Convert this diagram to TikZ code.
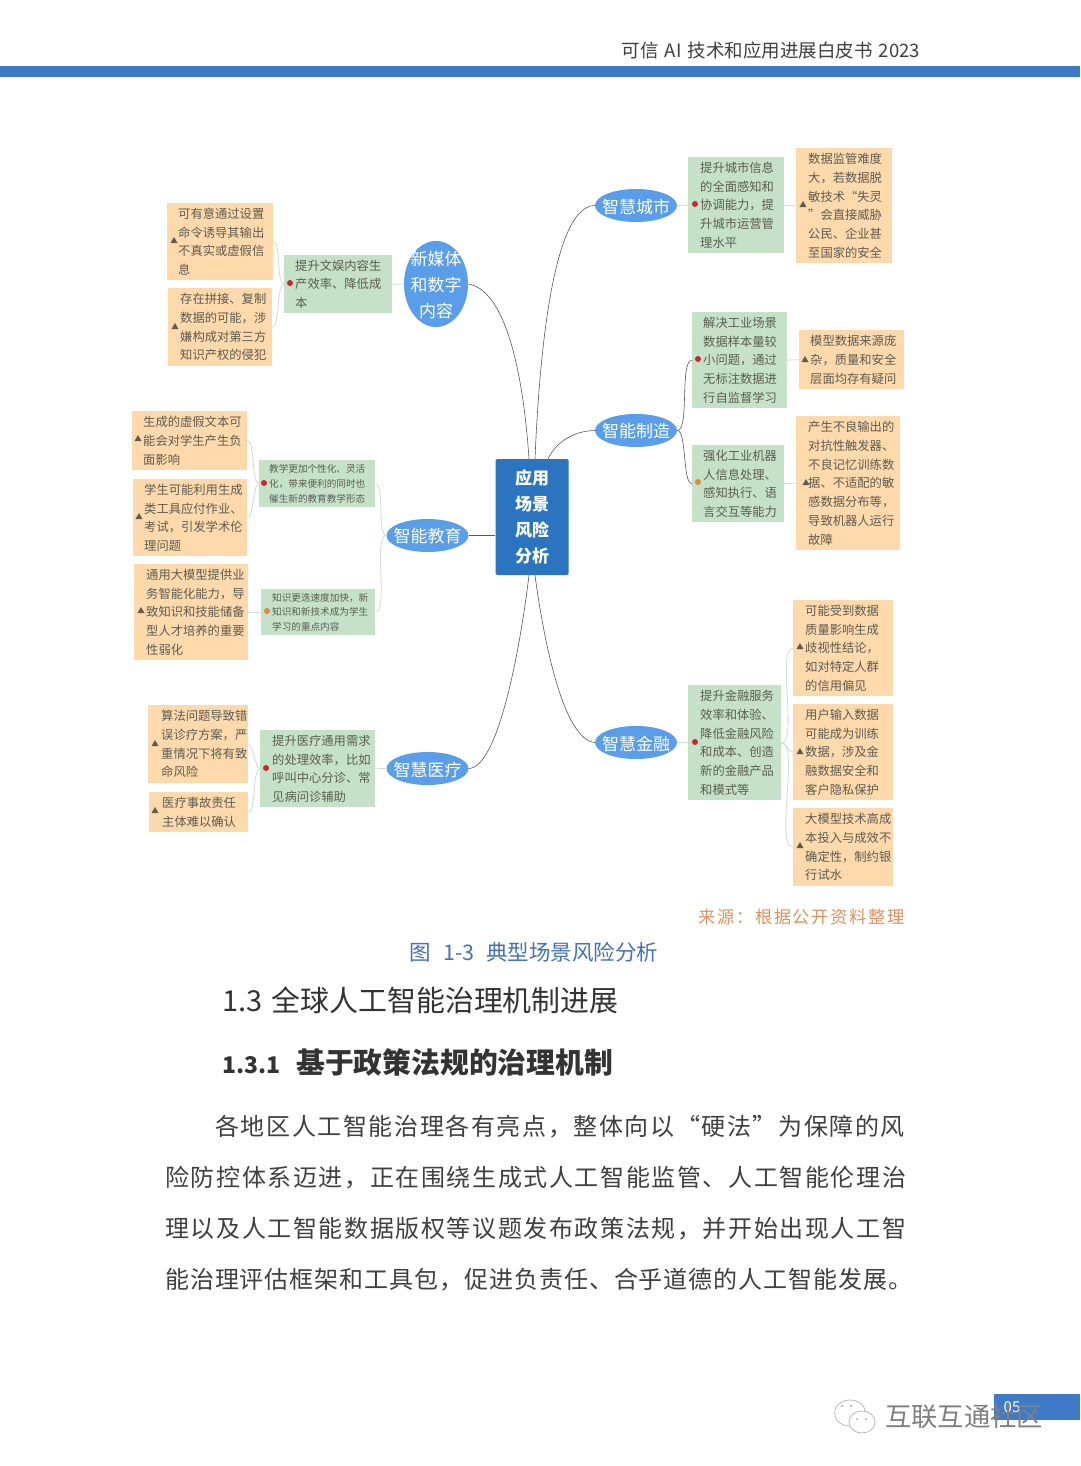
\documentclass[tikz,border=0pt]{standalone}
\usepackage{fontspec}
\setmainfont{Noto Sans CJK SC}
\newfontfamily\bodyfont[LetterSpace=6.7]{Noto Sans CJK SC}
\newfontfamily\tightfont[LetterSpace=3.9]{Noto Sans CJK SC}
\newfontfamily\sourcefont[LetterSpace=10]{Noto Sans CJK SC}
\usetikzlibrary{shapes.geometric}
\definecolor{barblue}{HTML}{3E7AC6}
\definecolor{coreblue}{HTML}{2B74BF}
\definecolor{topicblue}{HTML}{5A9DE8}
\definecolor{goalgreen}{HTML}{C5E2C8}
\definecolor{riskorange}{HTML}{FDD9AB}
\definecolor{inkgray}{HTML}{5C5C52}
\definecolor{twiggray}{HTML}{CFDDD2}
\definecolor{dotred}{HTML}{C8282D}
\definecolor{dotorange}{HTML}{DD8A3C}
\definecolor{captionblue}{HTML}{4472B8}
\definecolor{sourceorange}{HTML}{DC9260}
\begin{document}
\begin{tikzpicture}[x=1pt,y=-1pt]
    \tikzset{
        lead/.style={execute at begin node={\leftskip=#1pt}},
        riskbox/.style={fill=riskorange, anchor=north west, inner sep=0pt, align=left, text=inkgray, font=\fontsize{12.3}{18.7}\selectfont, lead=12},
        goalbox/.style={riskbox, fill=goalgreen},
        tinybox/.style={goalbox, font=\fontsize{9.6}{14.7}\selectfont},
        topic/.style={ellipse, fill=topicblue, inner sep=0pt, minimum width=82pt, minimum height=33pt},
        topictext/.style={text=white, align=center, inner sep=0pt, yshift=-1pt, font=\fontsize{17}{26}\selectfont},
        reddot/.style={circle, fill=dotred, inner sep=0pt, minimum size=6pt},
        orangedot/.style={reddot, fill=dotorange},
        tri/.style={regular polygon, regular polygon sides=3, fill=inkgray, inner sep=0pt, minimum size=8pt},
        branch/.style={draw=black!65, line width=0.6pt},
        twig/.style={draw=twiggray, line width=0.8pt},
        bend/.style={out=#1,in=#1+180,looseness=0.45}
    }
    \useasboundingbox (0,0) rectangle (1080,1466);
    \fill[white] (0,0) rectangle (1080,1466);
    % page head
    \node[anchor=east, inner sep=0pt, text=black!75, font=\fontsize{18.5}{22}\selectfont] (headline) at (920,50) {可信\hspace{2pt} AI\hspace{2pt} 技术和应用进展白皮书\hspace{2pt} 2023};
    \fill[barblue] (0,66) rectangle (1080,77);
    % centre
    \node[fill=coreblue, rounded corners=1.5pt, minimum width=73pt, minimum height=116pt, inner sep=0pt, align=center, text=white, font=\bfseries\fontsize{17}{26}\selectfont] (core) at (532,517) {应用\\场景\\风险\\分析};
    % topics
    \node[topic, minimum width=64pt, minimum height=86pt, label={[topictext]center:新媒体\\和数字\\内容}] (media) at (436,284) {};
    \node[topic, label={[topictext]center:智能教育}] (edu) at (427.5,535.5) {};
    \node[topic, label={[topictext]center:智慧医疗}] (health) at (427.5,768.5) {};
    \node[topic, label={[topictext]center:智慧城市}] (city) at (636,205.5) {};
    \node[topic, label={[topictext]center:智能制造}] (factory) at (636,430.5) {};
    \node[topic, label={[topictext]center:智慧金融}] (finance) at (636,742.5) {};
    % left side
    \node[goalbox, text width=108pt, minimum height=58pt, lead=11] (mediagoal) at (284,255) {提升文娱内容生\\产效率、降低成\\本};
    \node[riskbox, text width=106pt, minimum height=77pt, lead=11] (mediarisk1) at (167,203) {可有意通过设置\\命令诱导其输出\\不真实或虚假信\\息};
    \node[riskbox, text width=104pt, minimum height=78pt] (mediarisk2) at (168,288) {存在拼接、复制\\数据的可能，涉\\嫌构成对第三方\\知识产权的侵犯};
    \node[tinybox, text width=116pt, minimum height=47pt, lead=10] (edugoal1) at (259,460) {教学更加个性化、灵活\\化，带来便利的同时也\\催生新的教育教学形态};
    \node[tinybox, text width=114pt, minimum height=46pt, lead=11] (edugoal2) at (261,589) {知识更迭速度加快，新\\知识和新技术成为学生\\学习的重点内容};
    \node[riskbox, text width=115pt, minimum height=59pt, lead=11] (edurisk1) at (132,411) {生成的虚假文本可\\能会对学生产生负\\面影响};
    \node[riskbox, text width=114pt, minimum height=77pt, lead=11] (edurisk2) at (133,479) {学生可能利用生成\\类工具应付作业、\\考试，引发学术伦\\理问题};
    \node[riskbox, text width=114pt, minimum height=96pt] (edurisk3) at (134,564) {通用大模型提供业\\务智能化能力，导\\致知识和技能储备\\型人才培养的重要\\性弱化};
    \node[goalbox, text width=115pt, minimum height=77pt] (healthgoal) at (260,730) {提升医疗通用需求\\的处理效率，比如\\呼叫中心分诊、常\\见病问诊辅助};
    \node[riskbox, text width=100pt, minimum height=78pt, lead=13] (healthrisk1) at (148,705) {算法问题导致错\\误诊疗方案，严\\重情况下将有致\\命风险};
    \node[riskbox, text width=99pt, minimum height=40pt, lead=13] (healthrisk2) at (149,792) {医疗事故责任\\主体难以确认};
    % right side
    \node[goalbox, text width=96pt, minimum height=96pt] (citygoal) at (688,157) {提升城市信息\\的全面感知和\\协调能力，提\\升城市运营管\\理水平};
    \node[riskbox, text width=96pt, minimum height=115pt] (cityrisk) at (796,148) {数据监管难度\\大，若数据脱\\敏技术“失灵\\”会直接威胁\\公民、企业甚\\至国家的安全};
    \node[goalbox, text width=95pt, minimum height=96pt, lead=11] (factorygoal1) at (692,312) {解决工业场景\\数据样本量较\\小问题，通过\\无标注数据进\\行自监督学习};
    \node[riskbox, text width=105pt, minimum height=59pt, lead=11] (factoryrisk1) at (799,330) {模型数据来源庞\\杂，质量和安全\\层面均存有疑问};
    \node[goalbox, text width=92pt, minimum height=77pt, lead=11] (factorygoal2) at (692,445) {强化工业机器\\人信息处理、\\感知执行、语\\言交互等能力};
    \node[riskbox, text width=104pt, minimum height=134pt] (factoryrisk2) at (796,416) {产生不良输出的\\对抗性触发器、\\不良记忆训练数\\据、不适配的敏\\感数据分布等，\\导致机器人运行\\故障};
    \node[goalbox, text width=93pt, minimum height=115pt] (financegoal) at (688,685) {提升金融服务\\效率和体验、\\降低金融风险\\和成本、创造\\新的金融产品\\和模式等};
    \node[riskbox, text width=100pt, minimum height=96pt] (financerisk1) at (793,600) {可能受到数据\\质量影响生成\\歧视性结论，\\如对特定人群\\的信用偏见};
    \node[riskbox, text width=100pt, minimum height=96pt] (financerisk2) at (793,704) {用户输入数据\\可能成为训练\\数据，涉及金\\融数据安全和\\客户隐私保护};
    \node[riskbox, text width=100pt, minimum height=78pt] (financerisk3) at (793,808) {大模型技术高成\\本投入与成效不\\确定性，制约银\\行试水};
    % main branches
    \draw[branch] (media.east) .. controls (505,290) and (523,370) .. ([xshift=-3]core.north);
    \draw[branch] (edu.east) -- (core.west |- edu.east);
    \draw[branch] (health.east) .. controls (498,768) and (520,650) .. ([xshift=-3]core.south);
    \draw[branch] (city.west) .. controls (555,206) and (540,340) .. ([xshift=3]core.north);
    \draw[branch] (factory.west) .. controls (572,431) and (556,443) .. ([xshift=16]core.north);
    \draw[branch] (finance.west) .. controls (565,740) and (545,650) .. ([xshift=3]core.south);
    \draw[branch] (factory.east) to[bend=0] (factorygoal1.west);
    \draw[branch] (factory.east) to[bend=0] (factorygoal2.west);
    % twigs
    \draw[twig] (media.west) -- (mediagoal.east);
    \draw[twig] (mediagoal.west) to[bend=180] (mediarisk1.east);
    \draw[twig] (mediagoal.west) to[bend=180] (mediarisk2.east);
    \draw[twig] (edu.west) to[bend=180] (edugoal1.east);
    \draw[twig] (edu.west) to[bend=180] (edugoal2.east);
    \draw[twig] (edugoal1.west) to[bend=180] (edurisk1.east);
    \draw[twig] (edugoal1.west) to[bend=180] (edurisk2.east);
    \draw[twig] (edugoal2.west) -- (edurisk3.east);
    \draw[twig] (health.west) -- (healthgoal.east);
    \draw[twig] (healthgoal.west) to[bend=180] (healthrisk1.east);
    \draw[twig] (healthgoal.west) to[bend=180] (healthrisk2.east);
    \draw[twig] (city.east) -- (citygoal.west);
    \draw[twig] (citygoal.east) -- (cityrisk.west);
    \draw[twig] (factorygoal1.east) -- (factoryrisk1.west);
    \draw[twig] (factorygoal2.east) -- (factoryrisk2.west);
    \draw[twig] (finance.east) -- (financegoal.west);
    \draw[twig] (financegoal.east) to[bend=0] (financerisk1.west);
    \draw[twig] (financegoal.east) to[bend=0] (financerisk2.west);
    \draw[twig] (financegoal.east) to[bend=0] (financerisk3.west);
    % markers
    \node[reddot] (dota) at (290,283) {};
    \node[reddot] (dotb) at (264,483) {};
    \node[orangedot] (dotc) at (267,611) {};
    \node[reddot] (dotd) at (266,768) {};
    \node[reddot] (dote) at (695,204) {};
    \node[reddot] (dotf) at (698,359) {};
    \node[orangedot] (dotg) at (698,482) {};
    \node[reddot] (doth) at (695,742) {};
    \node[tri] (tria) at (174,241) {};
    \node[tri] (trib) at (175,327) {};
    \node[tri] (tric) at (138,439) {};
    \node[tri] (trid) at (139,517) {};
    \node[tri] (trie) at (141,611) {};
    \node[tri] (trif) at (155,744) {};
    \node[tri] (trig) at (155,811) {};
    \node[tri] (trih) at (803,205) {};
    \node[tri] (trii) at (805,360) {};
    \node[tri] (trij) at (806,483) {};
    \node[tri] (trik) at (800,647) {};
    \node[tri] (tril) at (800,752) {};
    \node[tri] (trim) at (800,846) {};
    % text below the figure
    \node[anchor=east, inner sep=0pt, text=sourceorange, font=\sourcefont\fontsize{17.2}{22}\selectfont] (source) at (905,917) {来源：根据公开资料整理};
    \node[inner sep=0pt, text=captionblue, font=\fontsize{21.5}{25}\selectfont] (caption) at (534,952) {图\hspace{12pt}1-3\hspace{12pt}典型场景风险分析};
    \node[anchor=west, inner sep=0pt, text=black!80, font=\fontsize{28.9}{34}\selectfont] (head1) at (222,1000) {1.3\hspace{3pt} 全球人工智能治理机制进展};
    \node[anchor=west, inner sep=0pt, text=black!80, font=\bfseries\fontsize{28.8}{34}\selectfont] (head2) at (222,1062) {{\fontsize{23}{34}\selectfont 1.3.1}\hspace{16pt}基于政策法规的治理机制};
    \node[anchor=west, inner sep=0pt, text=black!75, font=\bodyfont\fontsize{24}{30}\selectfont] (para1) at (215,1127) {各地区人工智能治理各有亮点，整体向以“硬法”为保障的风};
    \node[anchor=west, inner sep=0pt, text=black!75, font=\bodyfont\fontsize{24}{30}\selectfont] (para2) at (165,1178) {险防控体系迈进，正在围绕生成式人工智能监管、人工智能伦理治};
    \node[anchor=west, inner sep=0pt, text=black!75, font=\bodyfont\fontsize{24}{30}\selectfont] (para3) at (165,1229) {理以及人工智能数据版权等议题发布政策法规，并开始出现人工智};
    \node[anchor=west, inner sep=0pt, text=black!75, font=\tightfont\fontsize{24}{30}\selectfont] (para4) at (165,1280) {能治理评估框架和工具包，促进负责任、合乎道德的人工智能发展。};
    % page number and stamp
    \fill[barblue] (994,1394) rectangle (1080,1420);
    \node[inner sep=0pt, text=white, font=\fontsize{15}{18}\selectfont] (pageno) at (1012,1407) {05};
    \node[ellipse, draw=black!30, fill=white, line width=0.7pt, minimum width=31pt, minimum height=26pt, inner sep=0pt] (bubbleback) at (850,1413) {};
    \node[ellipse, draw=black!30, fill=white, line width=0.7pt, minimum width=26pt, minimum height=22pt, inner sep=0pt] (bubblefront) at (862,1422) {};
    \fill[black!35] (842,1406) circle (1.2) (851,1406) circle (1.2) (857,1419) circle (1) (866,1419) circle (1);
    \node[anchor=west, inner sep=0pt, text=black!50, font=\fontsize{26.3}{30}\selectfont] (stamp) at (885,1417) {互联互通社区};
\end{tikzpicture}
\end{document}
